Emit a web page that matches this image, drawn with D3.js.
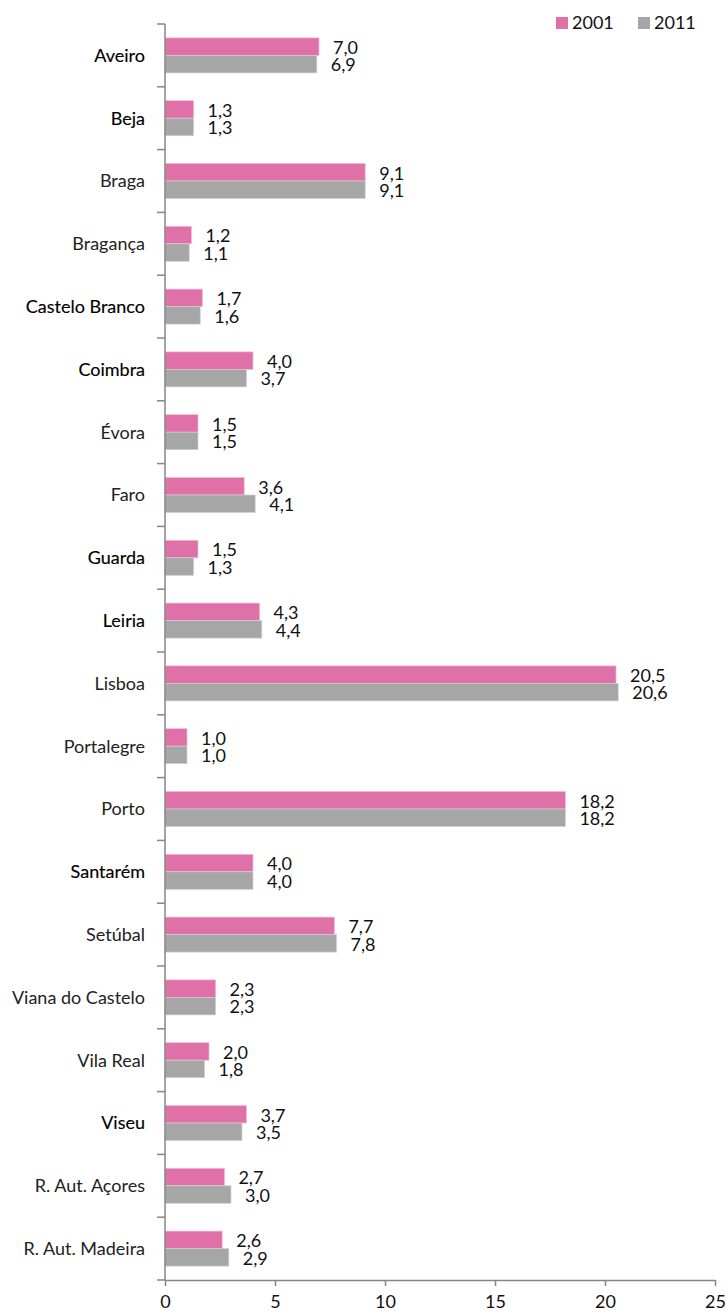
<!DOCTYPE html>
<html lang="pt">
<head>
<meta charset="utf-8">
<title>Distritos 2001 / 2011</title>
<script src="https://cdn.jsdelivr.net/npm/d3@7"></script>
<style>
  body { margin: 0; background: #fff; }
  svg text { font-family: Lato, "Open Sans", sans-serif; }
  .axis path, .axis line { stroke: #868686; }
</style>
</head>
<body>
<svg id="chart" width="726" height="1316"></svg>
<script>
// data
var regions = ["Aveiro", "Beja", "Braga", "Bragança", "Castelo Branco", "Coimbra", "Évora",
  "Faro", "Guarda", "Leiria", "Lisboa", "Portalegre", "Porto", "Santarém", "Setúbal",
  "Viana do Castelo", "Vila Real", "Viseu", "R. Aut. Açores", "R. Aut. Madeira"];
var v2001 = [7.0, 1.3, 9.1, 1.2, 1.7, 4.0, 1.5, 3.6, 1.5, 4.3, 20.5, 1.0, 18.2, 4.0, 7.7, 2.3, 2.0, 3.7, 2.7, 2.6];
var v2011 = [6.9, 1.3, 9.1, 1.1, 1.6, 3.7, 1.5, 4.1, 1.3, 4.4, 20.6, 1.0, 18.2, 4.0, 7.8, 2.3, 1.8, 3.5, 3.0, 2.9];
var seriesNames = ["2001", "2011"];
var xTicks = [0, 5, 10, 15, 20, 25];
// labels drawn darker in the original
var darkLabels = ["Aveiro", "Beja", "Castelo Branco", "Coimbra", "Guarda", "Leiria", "Santarém", "Viseu"];

var colors = {"2001": "#E070A8", "2011": "#A6A6A6"};
var fs = "18px";
var svg = d3.select("#chart");
var margin = {top: 24, left: 165, right: 11, bottom: 36};
var width = 726 - margin.left - margin.right,
    height = 1316 - margin.top - margin.bottom;

var g = svg.append("g").attr("transform", "translate(" + margin.left + "," + margin.top + ")");

var x = d3.scaleLinear().domain([0, 25]).range([0, width]);
var y = d3.scaleBand().domain(regions).range([0, height]);
var inner = d3.scaleBand().domain(seriesNames).range([y.bandwidth() / 2 - 17.5, y.bandwidth() / 2 + 17.5]);

var rows = regions.map(function(r, i) {
  return {name: r, values: [{s: "2001", v: v2001[i]}, {s: "2011", v: v2011[i]}]};
});

var row = g.selectAll(".row").data(rows).enter().append("g")
    .attr("class", "row")
    .attr("transform", function(d) { return "translate(0," + y(d.name) + ")"; });

row.selectAll("rect").data(function(d) { return d.values; }).enter().append("rect")
    .attr("x", 0)
    .attr("y", function(d) { return inner(d.s); })
    .attr("width", function(d) { return x(d.v); })
    .attr("height", inner.bandwidth())
    .attr("fill", function(d) { return colors[d.s]; })
    .attr("stroke", function(d) { return d.s == "2001" ? "#f2b8d4" : "#d0d0d0"; })
    .attr("stroke-width", 0.7);

row.selectAll(".val").data(function(d) { return d.values; }).enter().append("text")
    .attr("class", "val")
    .attr("x", function(d) { return x(d.v) + 14; })
    .attr("y", function(d) { return inner(d.s) + inner.bandwidth() / 2 + 1; })
    .attr("dy", "0.35em")
    .style("font-size", fs)
    .attr("fill", "#111")
    .text(function(d) { return d.v.toFixed(1).replace(".", ","); });

// y axis (categories), ticks between bands
g.append("line")
    .attr("x1", 0).attr("x2", 0).attr("y1", 0).attr("y2", height)
    .attr("stroke", "#868686").attr("stroke-width", 1.5);

g.selectAll(".ytick").data(d3.range(regions.length + 1)).enter().append("line")
    .attr("x1", -8).attr("x2", 0)
    .attr("y1", function(i) { return i * y.step(); })
    .attr("y2", function(i) { return i * y.step(); })
    .attr("stroke", "#868686").attr("stroke-width", 1.5);

g.selectAll(".ylab").data(regions).enter().append("text")
    .attr("class", "ylab")
    .attr("x", -20)
    .attr("y", function(d) { return y(d) + y.bandwidth() / 2; })
    .attr("dy", "0.35em")
    .attr("text-anchor", "end")
    .style("font-size", fs)
    .attr("fill", function(d) { return darkLabels.indexOf(d) >= 0 ? "#000" : "#222"; })
    .attr("stroke", function(d) { return darkLabels.indexOf(d) >= 0 ? "#000" : "none"; })
    .attr("stroke-width", 0.15)
    .text(function(d) { return d; });

// x axis
var xAxis = g.append("g")
    .attr("class", "axis")
    .attr("transform", "translate(0," + height + ")")
    .call(d3.axisBottom(x).tickValues(xTicks).tickSize(6).tickSizeOuter(0).tickPadding(9));
xAxis.select(".domain").attr("stroke-width", 1.5);
xAxis.selectAll("line").attr("stroke-width", 1.5);
xAxis.selectAll("text").style("font-size", fs).attr("fill", "#111")
    .style("font-family", "Lato, 'Open Sans', sans-serif");

// legend
var legend = svg.append("g").attr("transform", "translate(556,17)");
var items = legend.selectAll(".li").data(seriesNames).enter().append("g")
    .attr("transform", function(d, i) { return "translate(" + (i * 82) + ",0)"; });
items.append("rect").attr("width", 12).attr("height", 12)
    .attr("fill", function(d) { return colors[d]; });
items.append("text").attr("x", 16).attr("y", 6).attr("dy", "0.35em")
    .style("font-size", fs).attr("fill", "#111")
    .text(function(d) { return d; });
</script>
</body>
</html>
